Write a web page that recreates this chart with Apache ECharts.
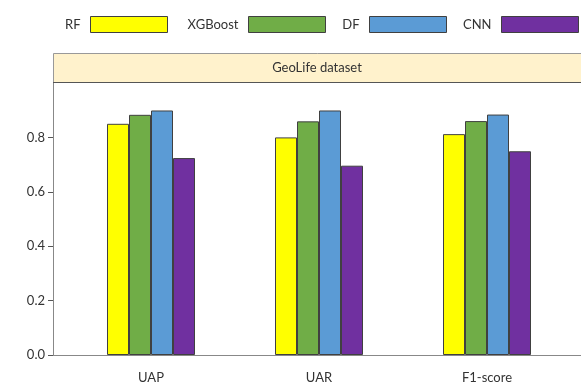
<!DOCTYPE html>
<html>
<head>
<meta charset="utf-8" />
<script src="https://cdn.jsdelivr.net/npm/echarts@6.0.0/dist/echarts.min.js"></script>
<style>
  body, html { margin: 0; padding: 0; background: #fff; }
  #chart { width: 581px; height: 384px; }
</style>
</head>
<body>
<div id="chart"></div>
<script>
  // data
  var categories = ["UAP", "UAR", "F1-score"];
  var seriesNames = ["RF", "XGBoost", "DF", "CNN"];
  var rfValues = [0.85, 0.80, 0.812];
  var xgbValues = [0.883, 0.859, 0.86];
  var dfValues = [0.899, 0.899, 0.884];
  var cnnValues = [0.724, 0.696, 0.749];
  var yTicks = [0, 0.2, 0.4, 0.6, 0.8];

  var font = "Lato";
  var edge = "#404040";
  var colors = ["#FFFF00", "#70AD47", "#5B9BD5", "#7030A0"];
  // right edge of each legend box, counted from the right of the page
  var legendRight = [413, 255, 134, 2];

  function bar(i, data) {
    return {
      name: seriesNames[i],
      type: "bar",
      data: data,
      barWidth: 22,
      barGap: "0%",
      itemStyle: { color: colors[i], borderColor: edge, borderWidth: 1 },
    };
  }

  // one legend per series so each sits where it sits in the picture
  var legends = seriesNames.map(function (n, i) {
    return {
      right: legendRight[i],
      top: 16,
      padding: 0,
      align: "right",
      itemWidth: 77,
      itemHeight: 16,
      icon: "rect",
      selectedMode: false,
      itemStyle: { borderColor: edge, borderWidth: 1 },
      textStyle: { fontFamily: font, fontSize: 13, color: "#333", padding: [0, 5, 0, 0] },
      data: [n],
    };
  });

  var chart = echarts.init(document.getElementById("chart"));
  chart.setOption({
    animation: false,
    textStyle: { fontFamily: font },
    legend: legends,
    grid: { left: 67, right: 10, top: 83, bottom: 29 },
    xAxis: {
      type: "category",
      data: categories,
      axisLine: { lineStyle: { color: "#888", width: 1 } },
      axisTick: { show: false },
      axisLabel: { fontFamily: font, fontSize: 13, color: "#333", margin: 16 },
    },
    yAxis: {
      type: "value",
      min: 0,
      max: 1,
      interval: 0.2,
      offset: 14,
      splitLine: { show: false },
      axisLine: { show: true, lineStyle: { color: "#888", width: 1 } },
      axisTick: { show: true, length: 5, lineStyle: { color: "#555" } },
      axisLabel: {
        fontFamily: font,
        fontSize: 13,
        color: "#333",
        margin: 8,
        showMaxLabel: false,
        formatter: function (v) {
          return yTicks.indexOf(+v.toFixed(1)) >= 0 ? v.toFixed(1) : "";
        },
      },
    },
    graphic: [
      {
        type: "rect",
        shape: { x: 53.5, y: 53.5, width: 560, height: 29 },
        style: { fill: "#FFF2CC", stroke: "#999", lineWidth: 1 },
        z: 10,
      },
      {
        type: "line",
        shape: { x1: 53, y1: 82.5, x2: 581, y2: 82.5 },
        style: { stroke: "#555", lineWidth: 1 },
        z: 11,
      },
      {
        type: "text",
        x: 317,
        y: 68,
        style: {
          text: "GeoLife dataset",
          font: "13px " + font,
          fill: "#333",
          align: "center",
          verticalAlign: "middle",
        },
        z: 12,
      },
      {
        type: "line",
        shape: { x1: 53, y1: 355.5, x2: 581, y2: 355.5 },
        style: { stroke: "#888", lineWidth: 1 },
        z: 1,
      },
    ],
    series: [
      bar(0, rfValues),
      bar(1, xgbValues),
      bar(2, dfValues),
      bar(3, cnnValues),
    ],
  });
</script>
</body>
</html>
